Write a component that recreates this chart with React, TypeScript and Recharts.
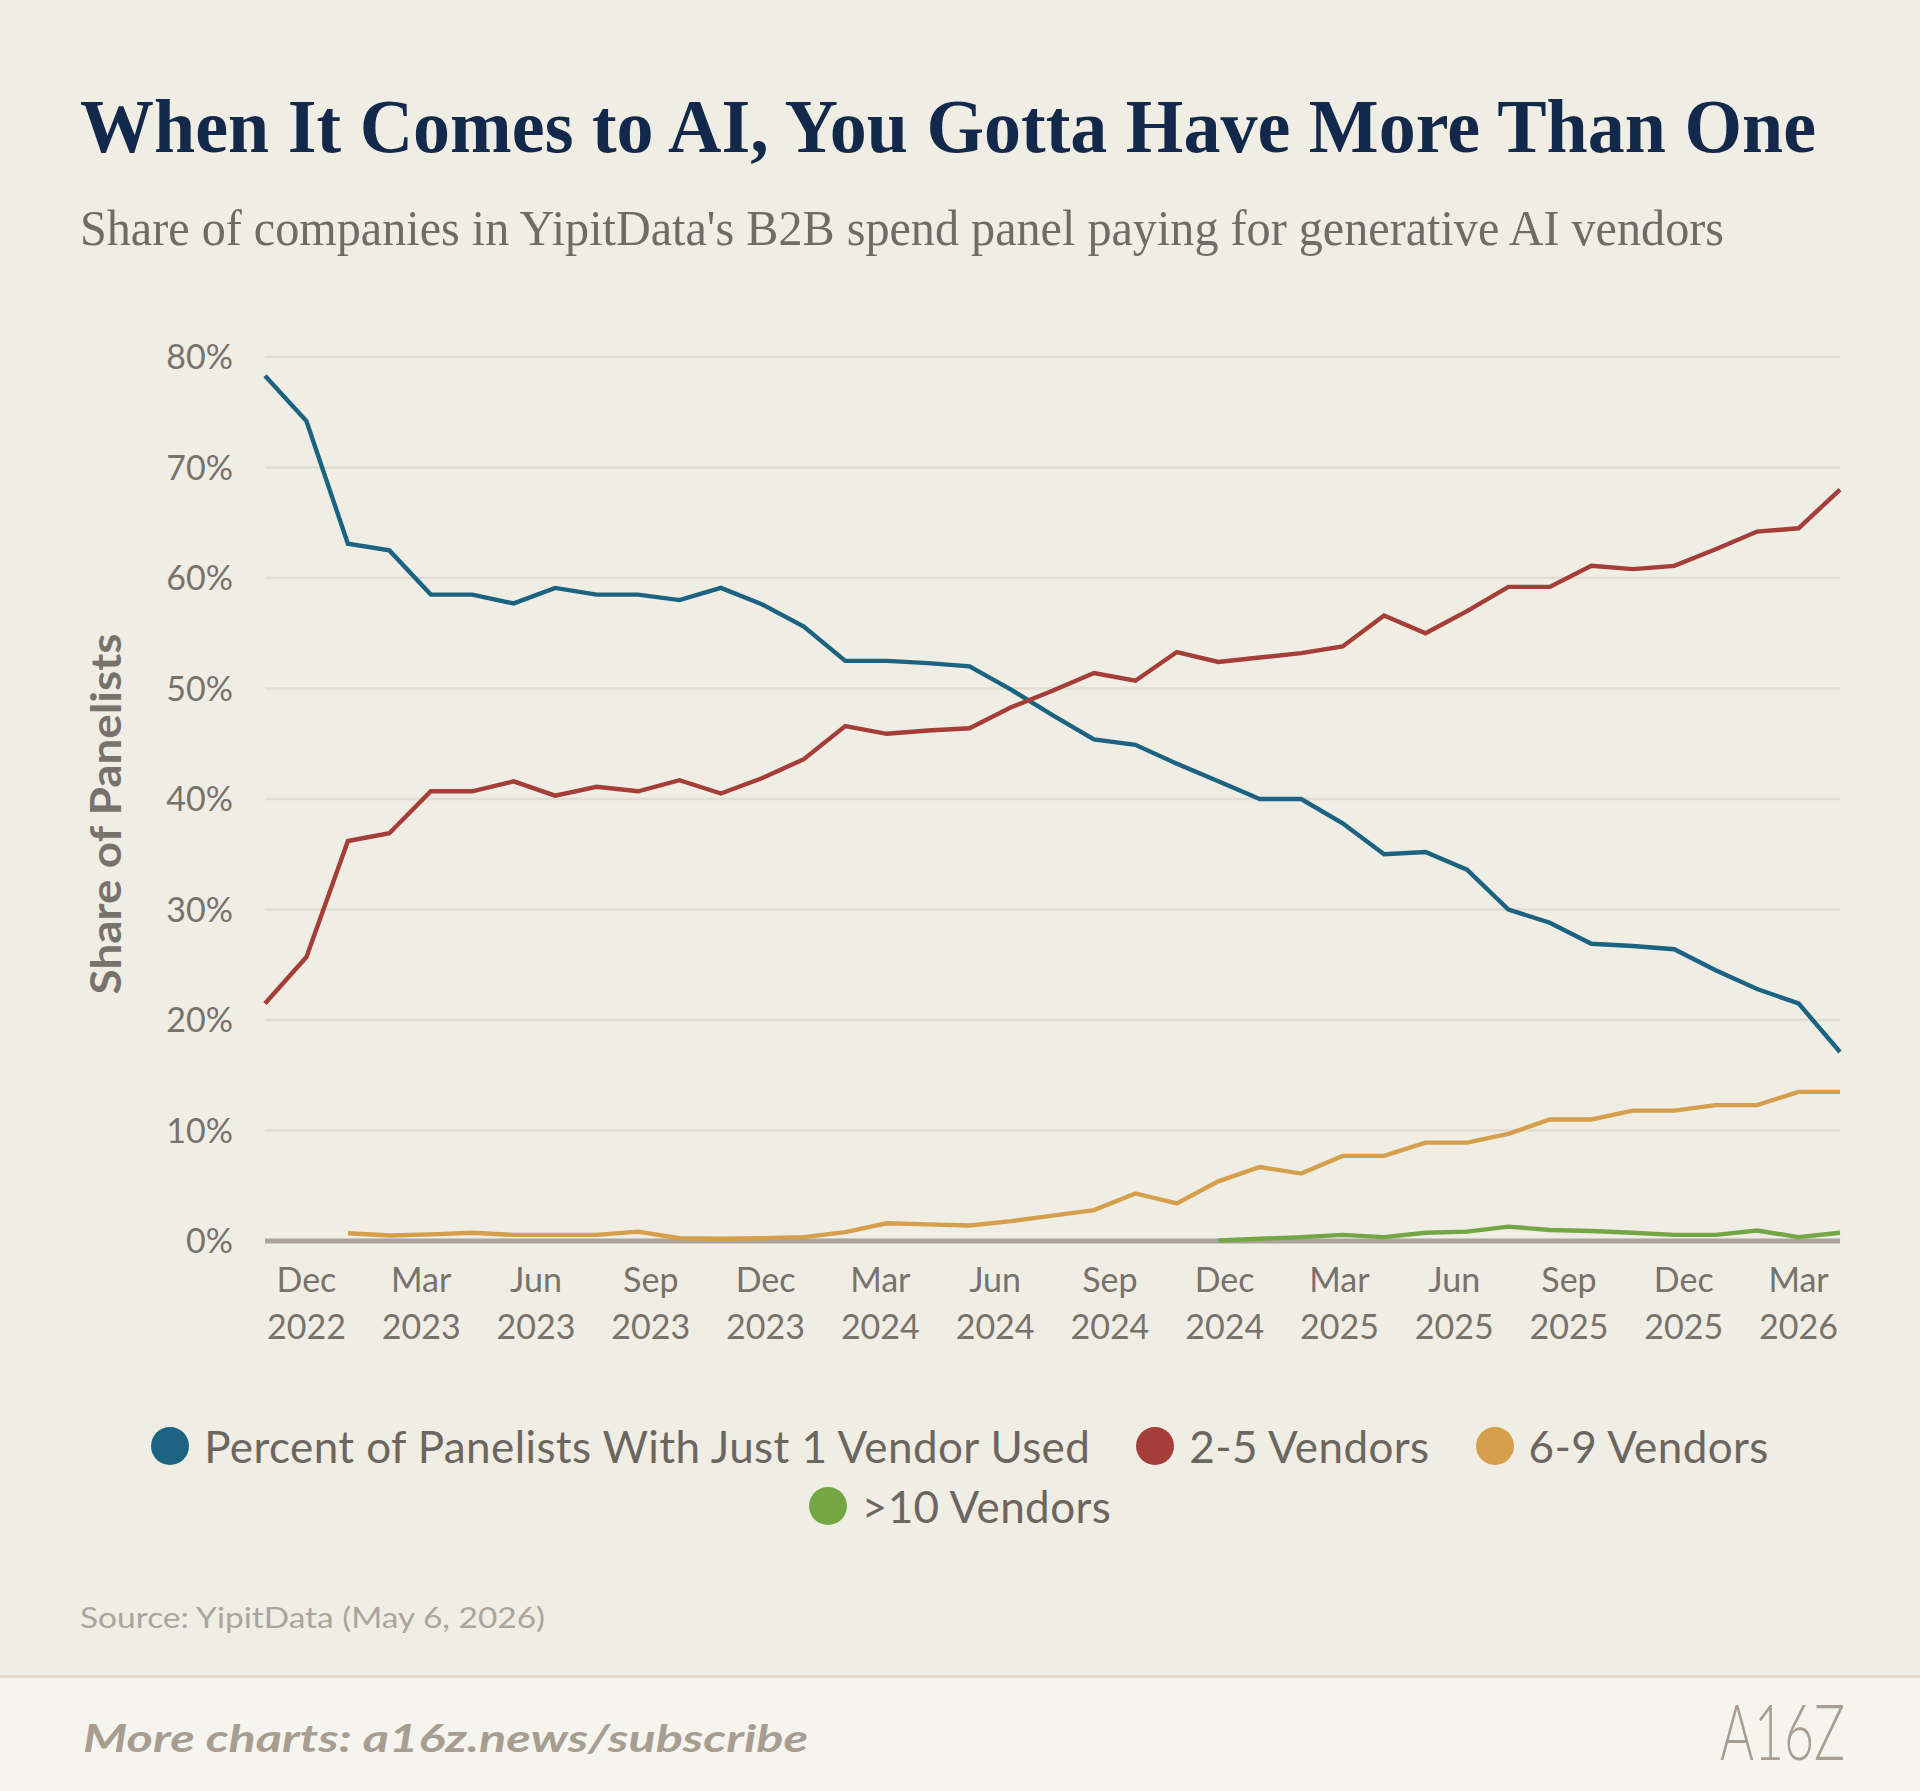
import { LineChart, Line, XAxis, YAxis, CartesianGrid, ReferenceLine } from "recharts";

// share of panelists, one value per survey point (39 points, Nov 2022 .. Apr 2026)
const oneVendor = [
  78.3, 74.2, 63.1, 62.5, 58.5, 58.5, 57.7, 59.1, 58.5, 58.5, 58.0, 59.1, 57.6,
  55.6, 52.5, 52.5, 52.3, 52.0, 49.9, 47.6, 45.4, 44.9, 43.2, 41.6, 40.0, 40.0,
  37.8, 35.0, 35.2, 33.6, 30.0, 28.8, 26.9, 26.7, 26.4, 24.5, 22.8, 21.5, 17.1,
];
const twoToFive = [
  21.5, 25.7, 36.2, 36.9, 40.7, 40.7, 41.6, 40.3, 41.1, 40.7, 41.7, 40.5, 41.9,
  43.6, 46.6, 45.9, 46.2, 46.4, 48.3, 49.8, 51.4, 50.7, 53.3, 52.4, 52.8, 53.2,
  53.8, 56.6, 55.0, 57.0, 59.2, 59.2, 61.1, 60.8, 61.1, 62.6, 64.2, 64.5, 68.0,
];
const sixToNine = [
  null, null, 0.7, 0.5, 0.6, 0.75, 0.55, 0.55, 0.55, 0.85, 0.25, 0.2, 0.25,
  0.35, 0.8, 1.6, 1.5, 1.4, 1.8, 2.3, 2.8, 4.3, 3.4, 5.4, 6.7, 6.1,
  7.7, 7.7, 8.9, 8.9, 9.7, 11.0, 11.0, 11.8, 11.8, 12.3, 12.3, 13.5, 13.5,
];
const overTen = [
  null, null, null, null, null, null, null, null, null, null, null, null, null,
  null, null, null, null, null, null, null, null, null, null, 0.05, 0.2, 0.35,
  0.55, 0.35, 0.75, 0.85, 1.3, 1.0, 0.9, 0.75, 0.55, 0.55, 0.95, 0.35, 0.75,
];

const tickLabels = [
  ["Dec", "2022"], ["Mar", "2023"], ["Jun", "2023"], ["Sep", "2023"],
  ["Dec", "2023"], ["Mar", "2024"], ["Jun", "2024"], ["Sep", "2024"],
  ["Dec", "2024"], ["Mar", "2025"], ["Jun", "2025"], ["Sep", "2025"],
  ["Dec", "2025"], ["Mar", "2026"],
];
// quarter ticks sit on the point index scale: Dec 2022 = point 1, Mar 2026 = point 37
const FIRST_TICK = 1;
const LAST_TICK = 37;
const yTicks = [0, 10, 20, 30, 40, 50, 60, 70, 80];

const series = [
  { key: "one", name: "Percent of Panelists With Just 1 Vendor Used", color: "#1b6381" },
  { key: "two", name: "2-5 Vendors", color: "#a53e39" },
  { key: "six", name: "6-9 Vendors", color: "#d59f4b" },
  { key: "ten", name: ">10 Vendors", color: "#74a645" },
];

const data = oneVendor.map((v, i) => ({
  idx: i,
  one: v,
  two: twoToFive[i],
  six: sixToNine[i],
  ten: overTen[i],
}));

const step = (LAST_TICK - FIRST_TICK) / (tickLabels.length - 1);
const xTicks = tickLabels.map((_, i) => FIRST_TICK + i * step);

const SANS = "Lato, 'Open Sans', sans-serif";
const SERIF = "'Liberation Serif', 'DejaVu Serif', serif";
const TICK_COLOR = "#77726b";

const XTick = (props: any) => {
  const { x, y, index } = props;
  const lbl = tickLabels[index] || ["", ""];
  return (
    <text x={x} y={y + 51} textAnchor="middle" fill={TICK_COLOR} fontSize={34} fontFamily={SANS}>
      <tspan x={x}>{lbl[0]}</tspan>
      <tspan x={x} dy={47}>{lbl[1]}</tspan>
    </text>
  );
};

export default function App() {
  return (
    <div style={{ position: "relative", width: 1920, height: 1791, background: "#f0ede5", overflow: "hidden", fontFamily: SANS }}>
      <style>{"body{margin:0}"}</style>

      <svg width={1920} height={1791} style={{ position: "absolute", left: 0, top: 0 }}>
        <text x={80} y={152} fontFamily={SERIF} fontWeight={700} fontSize={76} fill="#13294b" textLength={1736} lengthAdjust="spacingAndGlyphs">
          When It Comes to AI, You Gotta Have More Than One
        </text>
        <text x={80} y={245} fontFamily={SERIF} fontSize={50} fill="#6f6b66" textLength={1644} lengthAdjust="spacingAndGlyphs">
          Share of companies in YipitData's B2B spend panel paying for generative AI vendors
        </text>
        <text transform="translate(121,814) rotate(-90)" textAnchor="middle" fontFamily={SANS} fontWeight={700} fontSize={42} fill={TICK_COLOR} textLength={361} lengthAdjust="spacingAndGlyphs">
          Share of Panelists
        </text>
        <text x={80} y={1628} fontFamily={SANS} fontSize={29} fill="#aaa59d" textLength={465} lengthAdjust="spacingAndGlyphs">
          Source: YipitData (May 6, 2026)
        </text>
        <rect x={0} y={1675} width={1920} height={116} fill="#f6f4ef" />
        <rect x={0} y={1675} width={1920} height={3} fill="#e3dccd" />
        <text x={83} y={1752} fontFamily={SANS} fontWeight={700} fontStyle="italic" fontSize={38} fill="#a79e91" textLength={725} lengthAdjust="spacingAndGlyphs">
          More charts: a16z.news/subscribe
        </text>
        <text x={1720} y={1760} fontFamily={SANS} fontWeight={300} fontSize={76} fill="#a79e91" textLength={125} lengthAdjust="spacingAndGlyphs">
          A16Z
        </text>
      </svg>

      <div style={{ position: "absolute", left: 0, top: 300 }}>
        <LineChart width={1920} height={1060} data={data} margin={{ top: 57, right: 80, bottom: 9, left: 165 }}>
          <CartesianGrid vertical={false} stroke="#e2ddd2" strokeWidth={2.5} />
          <XAxis
            type="number"
            dataKey="idx"
            domain={[0, oneVendor.length - 1]}
            ticks={xTicks}
            interval={0}
            axisLine={false}
            tickLine={false}
            tickSize={0}
            tickMargin={0}
            height={110}
            tick={<XTick />}
          />
          <YAxis
            domain={[0, 80]}
            ticks={yTicks}
            width={100}
            axisLine={false}
            tickLine={false}
            tickSize={0}
            tickMargin={32}
            tickFormatter={(v) => `${v}%`}
            tick={{ fill: TICK_COLOR, fontSize: 34, fontFamily: SANS }}
          />
          <ReferenceLine y={0} stroke="#aaa49b" strokeWidth={5} />
          {series.map((s) => (
            <Line
              key={s.key}
              type="linear"
              dataKey={s.key}
              name={s.name}
              stroke={s.color}
              strokeWidth={4.4}
              dot={false}
              activeDot={false}
              connectNulls={false}
              isAnimationActive={false}
            />
          ))}
        </LineChart>
      </div>

      <div
        style={{
          position: "absolute",
          left: 60,
          top: 1416,
          width: 1800,
          display: "flex",
          flexWrap: "wrap",
          justifyContent: "center",
          columnGap: 46,
        }}
      >
        {series.map((s) => (
          <div key={s.key} style={{ display: "flex", alignItems: "center", height: 60 }}>
            <span style={{ width: 38, height: 38, borderRadius: 19, background: s.color, display: "inline-block", marginRight: 15 }} />
            <span style={{ fontSize: 44, letterSpacing: 0.4, color: "#6b6660", fontFamily: SANS, whiteSpace: "nowrap" }}>{s.name}</span>
          </div>
        ))}
      </div>
    </div>
  );
}
